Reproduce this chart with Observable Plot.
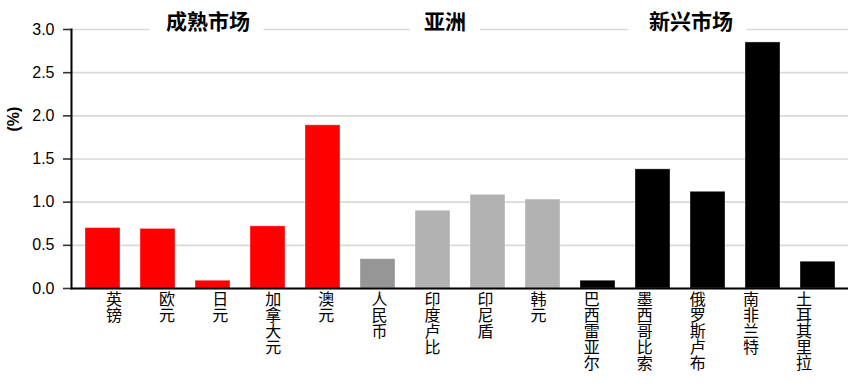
<!DOCTYPE html>
<html>
<head>
<meta charset="utf-8">
<script src="https://cdn.jsdelivr.net/npm/d3@7"></script>
<script src="https://cdn.jsdelivr.net/npm/@observablehq/plot@0.6"></script>
<style>
  html, body { margin: 0; padding: 0; background: #fff; }
  svg { display: block; }
</style>
</head>
<body>
<div id="chart"></div>
<script>
const currencies = ["英镑","欧元","日元","加拿大元","澳元","人民币","印度卢比","印尼盾","韩元","巴西雷亚尔","墨西哥比索","俄罗斯卢布","南非兰特","土耳其里拉"];
const values = [0.70, 0.69, 0.09, 0.72, 1.89, 0.34, 0.90, 1.085, 1.03, 0.09, 1.38, 1.12, 2.85, 0.31];
const groups = ["成熟","成熟","成熟","成熟","成熟","人民币","亚洲","亚洲","亚洲","新兴","新兴","新兴","新兴","新兴"];
const groupColors = {"成熟": "#ff0000", "人民币": "#969696", "亚洲": "#b2b2b2", "新兴": "#000000"};
const headerLabels = ["成熟市场", "亚洲", "新兴市场"];
const headerAt = ["日元", "印度卢比", "俄罗斯卢布"];
const headerDx = [-5, 12, -17];
const yTicks = [0, 0.5, 1.0, 1.5, 2.0, 2.5, 3.0];

const data = currencies.map((c, i) => ({name: c, value: values[i], group: groups[i]}));
const headers = headerLabels.map((h, i) => ({label: h, at: headerAt[i], dx: headerDx[i]}));

const cjk = "'Noto Sans CJK SC', 'Noto Sans', sans-serif";

const labelMarks = currencies.map((c, i) =>
  Plot.text([c], {
    x: d => d,
    y: 0,
    text: d => d.split("").join("\n"),
    lineAnchor: "top",
    lineHeight: 1.0,
    dy: 5,
    dx: 11 - i * (25 / 13),
    fontSize: 16,
    fontFamily: cjk,
    fill: "#000"
  })
);

const headerMarks = headers.map(h =>
  Plot.text([h], {
    x: "at",
    frameAnchor: "top",
    text: "label",
    lineAnchor: "bottom",
    dy: -1,
    dx: h.dx,
    fontSize: 21,
    fontWeight: "bold",
    fontFamily: cjk,
    fill: "#000",
    stroke: "white",
    strokeWidth: 30,
    strokeLinejoin: "miter"
  })
);

const chart = Plot.plot({
  width: 853,
  height: 392,
  marginLeft: 71,
  marginRight: 5,
  marginTop: 29,
  marginBottom: 104,
  style: {fontFamily: "'Liberation Sans', Arial, sans-serif", background: "#fff"},
  x: {domain: currencies, paddingInner: 0.37, paddingOuter: 0.185, axis: null},
  y: {domain: [0, 3], axis: null},
  marks: [
    Plot.gridY(yTicks, {stroke: "#d9d9d9", strokeOpacity: 1, strokeWidth: 1.6}),
    ...headerMarks,
    Plot.barY(data, {
      x: "name",
      y: "value",
      fill: d => groupColors[d.group],
      stroke: "white",
      strokeOpacity: 0.35,
      strokeWidth: 1
    }),
    Plot.axisY(yTicks, {
      tickSize: 8,
      tickPadding: 9,
      tickFormat: d3.format(".1f"),
      fontSize: 16,
      stroke: "#333",
      strokeWidth: 1.6,
      fill: "#000",
      label: null
    }),
    Plot.ruleY([0], {stroke: "#000", strokeWidth: 1.8}),
    Plot.frame({anchor: "left", stroke: "#000", strokeWidth: 2}),
    Plot.text(["(%)"], {
      frameAnchor: "left",
      rotate: -90,
      dx: -57.5,
      dy: -27.5,
      fontSize: 16,
      fontWeight: "bold",
      fill: "#000"
    }),
    ...labelMarks
  ]
});

document.getElementById("chart").appendChild(chart);
</script>
</body>
</html>
